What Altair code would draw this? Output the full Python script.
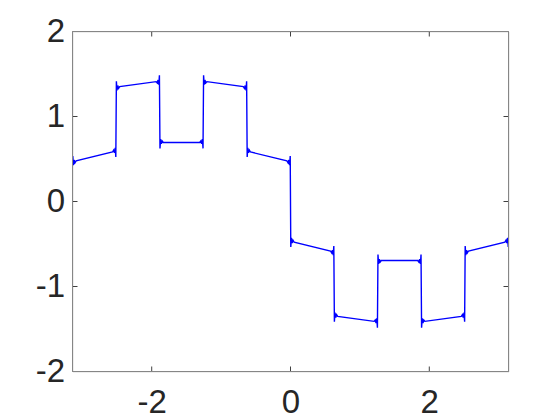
import altair as alt
import pandas as pd

# Breakpoints of the piecewise curve (multiples of pi/5)
breaks = [-3.1416, -2.5133, -1.8850, -1.2566, -0.6283, 0.0, 0.6283, 1.2566, 1.8850, 2.5133, 3.1416]
# Level at start and end of each segment
seg_start = [0.46, 1.34, 0.70, 1.41, 0.60, -0.46, -1.34, -0.70, -1.41, -0.60]
seg_end = [0.60, 1.41, 0.70, 1.34, 0.46, -0.60, -1.41, -0.70, -1.34, -0.46]
# Gibbs ringing next to each jump: distance from the jump and overshoot
ring_dx = [0.004, 0.013, 0.024, 0.036, 0.052]
ring_amp = [0.075, -0.035, 0.022, -0.012, 0.006]

x_ticks = [-2, 0, 2]
y_ticks = [-2, -1, 0, 1, 2]

W, H = 436, 340
TICK = 5

rows = []
n = len(seg_start)
for i in range(n):
    x0, x1 = breaks[i], breaks[i + 1]
    a, b = seg_start[i], seg_end[i]
    prev_end = seg_end[i - 1] if i > 0 else seg_end[-1]
    next_start = seg_start[i + 1] if i < n - 1 else seg_start[0]
    s_in = 1 if a > prev_end else -1
    s_out = 1 if next_start > b else -1

    def lin(x):
        return a + (b - a) * (x - x0) / (x1 - x0)

    for dx, amp in zip(ring_dx, ring_amp):
        x = x0 + dx
        rows.append((x, lin(x) + s_in * amp))
    for dx, amp in reversed(list(zip(ring_dx, ring_amp))):
        x = x1 - dx
        rows.append((x, lin(x) - s_out * amp))

df = pd.DataFrame(rows, columns=["x", "y"])
df["k"] = range(len(df))

xs = alt.Scale(domain=[-3.1416, 3.1416], nice=False, zero=False)
ys = alt.Scale(domain=[-2, 2], nice=False, zero=False)

axis_common = dict(
    grid=False, ticks=False, tickSize=0, domain=False,
    labelExpr="'' + datum.value",
    labelFont="Liberation Sans", labelFontSize=33, labelColor="#262626",
)

line = alt.Chart(df).mark_line(color="#0000ff", strokeWidth=1.4, clip=True).encode(
    x=alt.X("x:Q", scale=xs, title=None,
            axis=alt.Axis(values=x_ticks, labelPadding=15, **axis_common)),
    y=alt.Y("y:Q", scale=ys, title=None,
            axis=alt.Axis(values=y_ticks, labelPadding=8, **axis_common)),
    order="k:Q",
)

xt = pd.DataFrame({"t": x_ticks})
yt = pd.DataFrame({"t": y_ticks})
tick_color = "#404040"
frame_color = "#868686"

xb = alt.Chart(xt).mark_rule(color=tick_color, strokeWidth=1).encode(
    x=alt.X("t:Q", scale=xs), y=alt.value(H), y2=alt.value(H - TICK))
xtp = alt.Chart(xt).mark_rule(color=tick_color, strokeWidth=1).encode(
    x=alt.X("t:Q", scale=xs), y=alt.value(0), y2=alt.value(TICK))
yl = alt.Chart(yt).mark_rule(color=tick_color, strokeWidth=1).encode(
    y=alt.Y("t:Q", scale=ys), x=alt.value(0), x2=alt.value(TICK))
yr = alt.Chart(yt).mark_rule(color=tick_color, strokeWidth=1).encode(
    y=alt.Y("t:Q", scale=ys), x=alt.value(W), x2=alt.value(W - TICK))

frame_df = pd.DataFrame({"f": [0]})
f_top = alt.Chart(frame_df).mark_rule(color=frame_color, strokeWidth=1).encode(
    x=alt.value(0), x2=alt.value(W), y=alt.value(0))
f_bot = alt.Chart(frame_df).mark_rule(color=frame_color, strokeWidth=1).encode(
    x=alt.value(0), x2=alt.value(W), y=alt.value(H))
f_left = alt.Chart(frame_df).mark_rule(color=frame_color, strokeWidth=1).encode(
    y=alt.value(0), y2=alt.value(H), x=alt.value(0))
f_right = alt.Chart(frame_df).mark_rule(color=frame_color, strokeWidth=1).encode(
    y=alt.value(0), y2=alt.value(H), x=alt.value(W))

chart = alt.layer(line, xb, xtp, yl, yr, f_top, f_bot, f_left, f_right).properties(
    width=W, height=H, autosize="none",
    padding={"left": 64.5, "top": 23.5, "right": 20, "bottom": 49},
).configure_view(strokeWidth=0).configure(background="white")

chart.save("out.html", embed_options={"renderer": "svg", "actions": False})
